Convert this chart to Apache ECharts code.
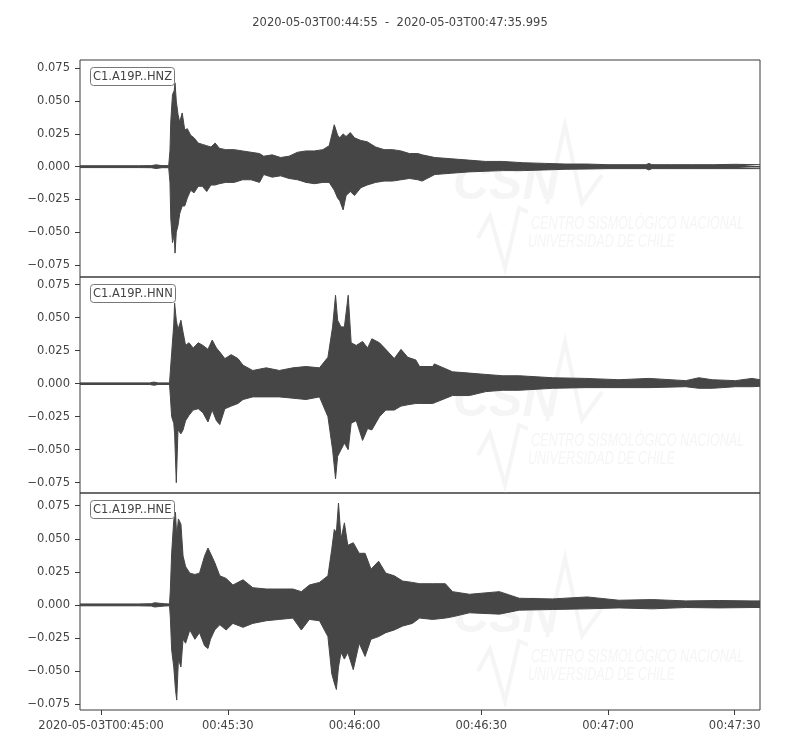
<!DOCTYPE html>
<html>
<head>
<meta charset="utf-8">
<script src="https://cdn.jsdelivr.net/npm/echarts@6/dist/echarts.min.js"></script>
<style>html,body{margin:0;padding:0;background:#fff;}#chart{width:800px;height:750px;}</style>
</head>
<body>
<div id="chart"></div>
<script>
// ---- data (time in seconds since 2020-05-03T00:44:55, amplitude envelopes) ----
const titleText = '2020-05-03T00:44:55  -  2020-05-03T00:47:35.995';
const channelNames = ['C1.A19P..HNZ', 'C1.A19P..HNN', 'C1.A19P..HNE'];
const xTickValues = [5, 35, 65, 95, 125, 155];
const xTickLabels = ['2020-05-03T00:45:00', '00:45:30', '00:46:00', '00:46:30', '00:47:00', '00:47:30'];
const yTickValues = [-0.075, -0.05, -0.025, 0, 0.025, 0.05, 0.075];
const traceSpan = [0, 160.995];

const hnzTime  = [0, 13.0, 13.4, 13.8, 16.9, 18.0, 19.4, 21.0, 21.3, 21.5, 21.9, 22.3, 22.5, 22.8, 23.2, 23.6, 24.2, 24.8, 25.4, 26.2, 27.0, 28.0, 29.0, 30.0, 31.0, 32.0, 33.0, 34.5, 36.5, 38.5, 40.5, 42.5, 43.5, 45.5, 47.5, 49.5, 51.5, 53.5, 55.5, 57.5, 59.0, 60.2, 61.0, 61.5, 62.3, 63.0, 64.0, 65.0, 66.5, 68.0, 70.0, 72.0, 74.0, 76.0, 78.0, 80.0, 81.0, 84.0, 88.0, 92.0, 96.0, 100.0, 105.0, 110.0, 115.0, 120.0, 125.0, 130.0, 134.0, 134.7, 135.4, 140.0, 145.0, 150.0, 155.0, 161.0];
const hnzUpper = [0.0007, 0.0007, 0.0011, 0.0007, 0.0008, 0.0014, 0.0008, 0.0008, 0.012, 0.035, 0.055, 0.058, 0.064, 0.050, 0.040, 0.034, 0.041, 0.028, 0.029, 0.024, 0.022, 0.018, 0.017, 0.016, 0.015, 0.018, 0.014, 0.013, 0.013, 0.012, 0.011, 0.010, 0.008, 0.009, 0.007, 0.008, 0.011, 0.012, 0.012, 0.013, 0.016, 0.032, 0.024, 0.022, 0.025, 0.023, 0.026, 0.022, 0.020, 0.019, 0.015, 0.013, 0.013, 0.012, 0.010, 0.010, 0.009, 0.007, 0.006, 0.005, 0.004, 0.004, 0.003, 0.0025, 0.002, 0.002, 0.0015, 0.0015, 0.0015, 0.0025, 0.0015, 0.0015, 0.0015, 0.0015, 0.0018, 0.0015];
const hnzLower = [-0.0007, -0.0007, -0.0011, -0.0007, -0.0008, -0.0014, -0.0008, -0.0008, -0.012, -0.040, -0.058, -0.052, -0.066, -0.050, -0.045, -0.036, -0.030, -0.030, -0.024, -0.018, -0.020, -0.015, -0.015, -0.019, -0.014, -0.014, -0.013, -0.012, -0.012, -0.010, -0.010, -0.012, -0.006, -0.008, -0.007, -0.009, -0.010, -0.012, -0.013, -0.012, -0.012, -0.018, -0.024, -0.026, -0.033, -0.022, -0.019, -0.022, -0.016, -0.014, -0.012, -0.011, -0.011, -0.010, -0.009, -0.010, -0.011, -0.006, -0.005, -0.004, -0.0035, -0.003, -0.003, -0.0025, -0.002, -0.0018, -0.0015, -0.0015, -0.0015, -0.0025, -0.0015, -0.0015, -0.0015, -0.0015, -0.0015, -0.0015];

const hnnTime  = [0, 16.5, 17.5, 18.5, 21.2, 21.4, 21.7, 22.2, 22.4, 22.8, 23.2, 23.9, 24.4, 25.0, 25.8, 26.8, 28.0, 29.1, 30.3, 31.3, 32.3, 33.1, 34.3, 35.8, 37.4, 38.6, 40.9, 44.1, 47.2, 50.4, 53.5, 56.7, 58.7, 59.8, 60.5, 61.0, 61.8, 62.6, 63.5, 64.2, 65.4, 66.9, 68.1, 69.1, 70.9, 72.4, 74.4, 76.0, 77.6, 79.5, 80.4, 83.5, 83.9, 88.2, 92.2, 96.1, 100.1, 104.0, 111.9, 119.7, 127.6, 134.7, 143.4, 146.5, 149.7, 155.2, 159.1, 161.0];
const hnnUpper = [0.0006, 0.0006, 0.0012, 0.0006, 0.0006, 0.010, 0.023, 0.045, 0.061, 0.048, 0.041, 0.048, 0.039, 0.029, 0.031, 0.027, 0.031, 0.029, 0.026, 0.033, 0.027, 0.024, 0.019, 0.022, 0.019, 0.014, 0.010, 0.012, 0.010, 0.012, 0.013, 0.012, 0.020, 0.043, 0.067, 0.048, 0.043, 0.043, 0.067, 0.031, 0.029, 0.032, 0.027, 0.034, 0.031, 0.026, 0.019, 0.026, 0.020, 0.018, 0.013, 0.013, 0.015, 0.009, 0.008, 0.007, 0.006, 0.006, 0.0045, 0.004, 0.003, 0.004, 0.0023, 0.0045, 0.003, 0.0023, 0.004, 0.003];
const hnnLower = [-0.0006, -0.0006, -0.0012, -0.0006, -0.0006, -0.010, -0.025, -0.030, -0.038, -0.075, -0.035, -0.038, -0.035, -0.028, -0.024, -0.020, -0.019, -0.022, -0.029, -0.020, -0.028, -0.031, -0.019, -0.017, -0.015, -0.012, -0.010, -0.010, -0.010, -0.011, -0.012, -0.010, -0.025, -0.050, -0.072, -0.055, -0.050, -0.045, -0.050, -0.030, -0.028, -0.043, -0.034, -0.035, -0.025, -0.020, -0.020, -0.017, -0.016, -0.015, -0.015, -0.015, -0.016, -0.009, -0.009, -0.006, -0.005, -0.005, -0.0035, -0.003, -0.003, -0.003, -0.0023, -0.0035, -0.0035, -0.0023, -0.0023, -0.002];

const hneTime  = [0, 13.0, 13.4, 13.8, 16.9, 17.7, 18.9, 20.0, 21.2, 21.4, 21.7, 22.2, 22.6, 22.9, 23.3, 23.9, 24.4, 25.0, 26.0, 27.2, 28.3, 29.5, 30.3, 30.9, 31.9, 33.1, 34.6, 36.2, 38.6, 40.9, 44.1, 47.2, 50.4, 52.4, 54.3, 56.7, 58.7, 59.6, 60.2, 60.7, 61.2, 61.8, 62.6, 63.4, 64.7, 66.1, 67.5, 68.9, 70.7, 72.4, 74.4, 76.4, 78.7, 80.4, 83.5, 86.5, 88.2, 92.2, 99.3, 104.0, 111.9, 120.1, 127.6, 135.5, 143.4, 151.2, 159.1, 161.0];
const hneUpper = [0.0007, 0.0007, 0.0011, 0.0007, 0.0009, 0.0016, 0.0012, 0.0009, 0.0007, 0.012, 0.039, 0.064, 0.070, 0.052, 0.065, 0.061, 0.037, 0.029, 0.024, 0.023, 0.024, 0.037, 0.043, 0.039, 0.032, 0.022, 0.020, 0.015, 0.019, 0.013, 0.012, 0.012, 0.012, 0.010, 0.015, 0.017, 0.022, 0.042, 0.057, 0.055, 0.077, 0.050, 0.062, 0.045, 0.047, 0.039, 0.039, 0.027, 0.033, 0.024, 0.022, 0.018, 0.017, 0.016, 0.016, 0.016, 0.010, 0.008, 0.010, 0.005, 0.0045, 0.006, 0.0035, 0.004, 0.003, 0.0033, 0.003, 0.003];
const hneLower = [-0.0007, -0.0007, -0.0011, -0.0007, -0.0009, -0.0016, -0.0012, -0.0009, -0.0007, -0.010, -0.034, -0.047, -0.064, -0.072, -0.041, -0.047, -0.026, -0.029, -0.019, -0.026, -0.021, -0.031, -0.033, -0.026, -0.019, -0.015, -0.019, -0.014, -0.017, -0.014, -0.012, -0.011, -0.010, -0.019, -0.011, -0.012, -0.024, -0.052, -0.059, -0.064, -0.047, -0.036, -0.041, -0.036, -0.049, -0.029, -0.039, -0.026, -0.024, -0.021, -0.019, -0.016, -0.014, -0.010, -0.011, -0.010, -0.009, -0.006, -0.007, -0.004, -0.0035, -0.003, -0.0023, -0.003, -0.002, -0.0023, -0.002, -0.002];

const traces = [
  { time: hnzTime, upper: hnzUpper, lower: hnzLower },
  { time: hnnTime, upper: hnnUpper, lower: hnnLower },
  { time: hneTime, upper: hneUpper, lower: hneLower }
];

// ---- layout ----
const gridTops = [60, 277, 493];
const gridHeights = [217, 216, 217];
const yLimits = [[-0.0842, 0.0814], [-0.0828, 0.0808], [-0.0795, 0.0846]];
const waveColor = '#464646';
const textColor = '#444';
const frameColor = '#3a3a3a';
const fontFamily = '"DejaVu Sans", sans-serif';
const fmtY = v => (v < 0 ? '\u2212' : '') + Math.abs(v).toFixed(3);

const grids = [], xAxes = [], yAxes = [], series = [], titles = [], graphics = [];
titles.push({ text: titleText, left: 'center', top: 12, textStyle: { fontSize: 11.5, fontWeight: 'normal', color: textColor, fontFamily } });

traces.forEach((tr, i) => {
  grids.push({ left: 80, width: 680, top: gridTops[i], height: gridHeights[i], show: true, borderColor: frameColor, borderWidth: 1, backgroundColor: 'transparent' });
  const isBottom = i === traces.length - 1;
  xAxes.push({
    type: 'value', gridIndex: i, min: traceSpan[0], max: traceSpan[1], position: 'bottom',
    axisLine: { show: false, onZero: false }, splitLine: { show: false },
    axisTick: { show: isBottom, customValues: xTickValues, length: 5, lineStyle: { color: frameColor } },
    axisLabel: { show: isBottom, customValues: xTickValues, margin: 10, color: textColor, fontSize: 11.5, fontFamily,
      formatter: v => { const k = xTickValues.indexOf(v); return k >= 0 ? xTickLabels[k] : ''; } }
  });
  yAxes.push({
    type: 'value', gridIndex: i, min: yLimits[i][0], max: yLimits[i][1], position: 'left',
    axisLine: { show: false, onZero: false }, splitLine: { show: false },
    axisTick: { show: true, customValues: yTickValues, length: 5, lineStyle: { color: frameColor } },
    axisLabel: { customValues: yTickValues, margin: 10, color: textColor, fontSize: 11.5, fontFamily, formatter: fmtY }
  });
  [tr.upper, tr.lower].forEach(vals => {
    series.push({
      type: 'line', xAxisIndex: i, yAxisIndex: i, symbol: 'none', showSymbol: false, animation: false, silent: true,
      zlevel: 1, z: 3,
      data: tr.time.map((t, k) => [t, vals[k]]),
      lineStyle: { color: waveColor, width: 1 },
      areaStyle: { color: waveColor, opacity: 1 }
    });
  });
  // trace baseline (covers the seam between the two filled halves)
  series.push({
    type: 'line', xAxisIndex: i, yAxisIndex: i, symbol: 'none', showSymbol: false, animation: false, silent: true,
    zlevel: 1, z: 4,
    data: [[traceSpan[0], 0], [traceSpan[1], 0]],
    lineStyle: { color: waveColor, width: 1.5 }
  });
  titles.push({ text: channelNames[i], left: 90, top: gridTops[i] + 7, padding: [4, 3, 3, 3], zlevel: 2,
    backgroundColor: '#fff', borderColor: '#777', borderWidth: 1, borderRadius: 3,
    textStyle: { fontSize: 11.5, fontWeight: 'normal', color: textColor, fontFamily } });

  // faint CSN watermark behind the traces
  const wmColor = '#f5f5f5';
  const oy = gridTops[i] - 60;
  graphics.push({ type: 'text', z: 1, x: 453, y: 160 + oy, style: { text: 'CSN', fill: wmColor, font: 'italic bold 50px "Liberation Sans", sans-serif', verticalAlign: 'top' } });
  graphics.push({ type: 'polyline', z: 1, shape: { points: [[547, 204 + oy], [565, 125 + oy], [582, 203 + oy], [602, 175 + oy]] }, style: { stroke: wmColor, lineWidth: 4, fill: null } });
  graphics.push({ type: 'polyline', z: 1, shape: { points: [[478, 238 + oy], [490, 216 + oy], [505, 268 + oy], [519, 208 + oy], [528, 212 + oy]] }, style: { stroke: wmColor, lineWidth: 4, fill: null } });
  graphics.push({ type: 'text', z: 1, x: 531, y: 214 + oy, scaleX: 0.66, style: { text: 'CENTRO SISMOLÓGICO NACIONAL', fill: wmColor, font: 'italic 19px "Liberation Sans", sans-serif', verticalAlign: 'top' } });
  graphics.push({ type: 'text', z: 1, x: 528, y: 232 + oy, scaleX: 0.66, style: { text: 'UNIVERSIDAD DE CHILE', fill: wmColor, font: 'italic 19px "Liberation Sans", sans-serif', verticalAlign: 'top' } });
});

const chart = echarts.init(document.getElementById('chart'), null, { renderer: 'canvas' });
chart.setOption({
  backgroundColor: '#fff',
  animation: false,
  title: titles,
  grid: grids,
  xAxis: xAxes,
  yAxis: yAxes,
  series: series,
  graphic: graphics
});
</script>
</body>
</html>
